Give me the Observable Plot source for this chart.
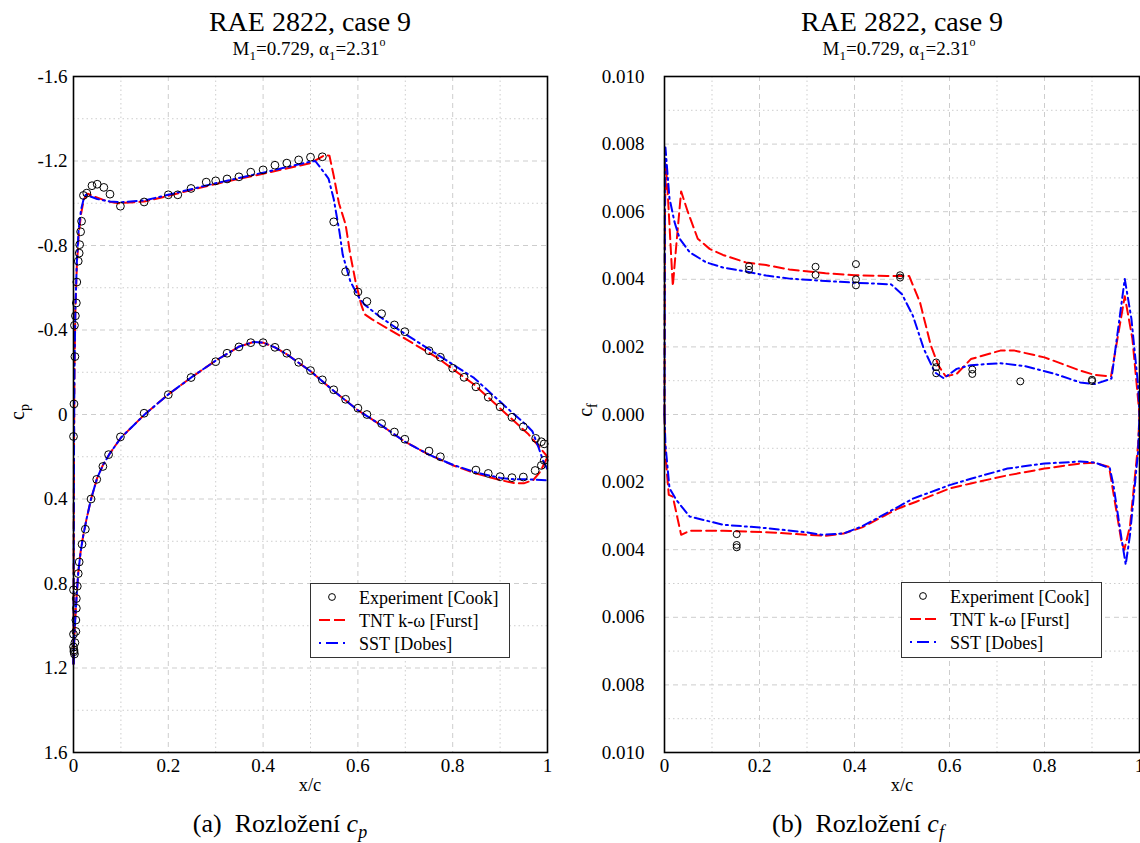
<!DOCTYPE html>
<html>
<head>
<meta charset="utf-8">
<script src="https://cdn.jsdelivr.net/npm/d3@7"></script>
<script src="https://cdn.jsdelivr.net/npm/@observablehq/plot@0.6"></script>
<style>
  html, body { margin: 0; padding: 0; background: #fff; }
  #root { position: relative; width: 1140px; height: 843px; overflow: hidden; font-family: "Liberation Serif", "DejaVu Serif", serif; color: #000; }
  .abs { position: absolute; white-space: nowrap; line-height: 1; }
  .cx { transform: translateX(-50%); }
  .title { font-size: 28px; }
  .subtitle { font-size: 19px; }
  .subtitle sub { font-size: 13px; vertical-align: -5px; line-height: 0; }
  .subtitle sup { font-size: 12px; vertical-align: 9px; line-height: 0; }
  .axlab { font-size: 18.5px; }
  .ylab { font-size: 20px; transform: translate(-50%, -50%) rotate(-90deg); }
  .ylab sub { font-size: 14px; vertical-align: -5px; line-height: 0; }
  .caption { font-size: 26px; }
  .caption sub { font-size: 18px; vertical-align: -6px; line-height: 0; }
  .legend { border: 1.5px solid #333; background: #fff; box-sizing: border-box; }
  .legend .row { position: absolute; left: 0; font-size: 18px; line-height: 1; }
  svg.plot { position: absolute; overflow: visible; }
  svg.plot text { font-family: "Liberation Serif", "DejaVu Serif", serif; }
</style>
</head>
<body>
<div id="root"></div>
<script>
// ---------- DATA ----------
const xTicks = [0, 0.2, 0.4, 0.6, 0.8, 1];
const xMajorGrid = [0.2, 0.4, 0.6, 0.8];
const xMinorGrid = [0.1, 0.3, 0.5, 0.7, 0.9];
const cpTicks = [-1.6, -1.2, -0.8, -0.4, 0, 0.4, 0.8, 1.2, 1.6];
const cpMinorGrid = [-1.4, -1.0, -0.6, -0.2, 0.2, 0.6, 1.0, 1.4];
const cfTicks = [-0.010, -0.008, -0.006, -0.004, -0.002, 0, 0.002, 0.004, 0.006, 0.008, 0.010];
const cfMinorGrid = [-0.009, -0.007, -0.005, -0.003, -0.001, 0.001, 0.003, 0.005, 0.007, 0.009];

// Experiment [Cook] cp, upper surface [x/c, cp]
const cpExpUpper = [
  [0.000, 0.104], [0.001, -0.05], [0.003, -0.274], [0.002, -0.422], [0.004, -0.467],
  [0.006, -0.528], [0.007, -0.627], [0.010, -0.726], [0.012, -0.764], [0.013, -0.804],
  [0.015, -0.865], [0.017, -0.915], [0.021, -1.037], [0.028, -1.048], [0.039, -1.083],
  [0.050, -1.09], [0.064, -1.075], [0.077, -1.043], [0.099, -0.986], [0.149, -1.006],
  [0.200, -1.04], [0.220, -1.04], [0.248, -1.07], [0.280, -1.10], [0.300, -1.106],
  [0.324, -1.115], [0.349, -1.125], [0.374, -1.147], [0.400, -1.158], [0.425, -1.18],
  [0.450, -1.19], [0.475, -1.205], [0.500, -1.218], [0.525, -1.22], [0.549, -0.912],
  [0.574, -0.676], [0.600, -0.58], [0.619, -0.535], [0.650, -0.477], [0.677, -0.424],
  [0.699, -0.392], [0.750, -0.302], [0.774, -0.271], [0.800, -0.219], [0.824, -0.176],
  [0.849, -0.131], [0.875, -0.082], [0.900, -0.036], [0.925, 0.013], [0.949, 0.058],
  [0.975, 0.113], [0.987, 0.129], [0.993, 0.139]
];
// Experiment [Cook] cp, lower surface
const cpExpLower = [
  [0.993, 0.217], [0.987, 0.241], [0.974, 0.265], [0.949, 0.296], [0.925, 0.299],
  [0.900, 0.294], [0.875, 0.279], [0.849, 0.263], [0.774, 0.20], [0.750, 0.173],
  [0.699, 0.117], [0.677, 0.083], [0.650, 0.043], [0.619, 0.0], [0.600, -0.03],
  [0.574, -0.072], [0.549, -0.117], [0.525, -0.164], [0.500, -0.208], [0.475, -0.247],
  [0.450, -0.29], [0.425, -0.318], [0.400, -0.34], [0.374, -0.34], [0.349, -0.32],
  [0.324, -0.29], [0.300, -0.25], [0.248, -0.175], [0.200, -0.094], [0.149, -0.006],
  [0.099, 0.106], [0.074, 0.19], [0.062, 0.246], [0.049, 0.307], [0.037, 0.40],
  [0.025, 0.543], [0.018, 0.614], [0.012, 0.698], [0.010, 0.753], [0.008, 0.813],
  [0.006, 0.871], [0.006, 0.917], [0.005, 0.973], [0.005, 1.027], [0.003, 1.08],
  [0.001, 1.123], [0.002, 1.134], [0.000, 0.83], [0.000, 1.04], [0.000, 1.10], [0.001, 1.115]
];
// TNT k-omega [Furst] cp
const cpTntUpper = [
  [0, 1.18], [0.0005, 0.6], [0.001, 0.2], [0.002, -0.2], [0.004, -0.5], [0.007, -0.7],
  [0.011, -0.85], [0.016, -0.95], [0.022, -1.02], [0.030, -1.045], [0.046, -1.03],
  [0.070, -1.01], [0.095, -1.0], [0.149, -1.008], [0.200, -1.035], [0.248, -1.063],
  [0.307, -1.095], [0.400, -1.14], [0.500, -1.19], [0.520, -1.215], [0.530, -1.228],
  [0.540, -1.225], [0.549, -1.13], [0.560, -1.0], [0.574, -0.9], [0.584, -0.756],
  [0.595, -0.63], [0.607, -0.52], [0.614, -0.475], [0.630, -0.45], [0.691, -0.37],
  [0.768, -0.268], [0.845, -0.142], [0.922, 0.016], [0.960, 0.094], [0.984, 0.157], [1.0, 0.2]
];
const cpTntLower = [
  [0, 1.18], [0.001, 1.1], [0.003, 1.0], [0.006, 0.88], [0.010, 0.75], [0.015, 0.65],
  [0.020, 0.58], [0.027, 0.5], [0.037, 0.4], [0.050, 0.3], [0.062, 0.24], [0.075, 0.19],
  [0.100, 0.11], [0.150, 0.0], [0.200, -0.095], [0.250, -0.178], [0.300, -0.255],
  [0.350, -0.322], [0.380, -0.343], [0.400, -0.34], [0.425, -0.318], [0.450, -0.285],
  [0.500, -0.205], [0.550, -0.11], [0.600, -0.02], [0.650, 0.052], [0.700, 0.13],
  [0.750, 0.19], [0.800, 0.24], [0.850, 0.28], [0.900, 0.31], [0.930, 0.325],
  [0.950, 0.326], [0.970, 0.31], [0.985, 0.27], [1.0, 0.2]
];
// SST [Dobes] cp
const cpSstUpper = [
  [0, 1.18], [0.0005, 0.6], [0.001, 0.2], [0.002, -0.2], [0.004, -0.5], [0.007, -0.72],
  [0.011, -0.88], [0.016, -0.97], [0.022, -1.025], [0.026, -1.04], [0.050, -1.02],
  [0.077, -1.008], [0.100, -1.005], [0.149, -1.013], [0.200, -1.04], [0.300, -1.095],
  [0.400, -1.145], [0.500, -1.197], [0.510, -1.2], [0.522, -1.165], [0.538, -1.117],
  [0.549, -1.02], [0.557, -0.917], [0.561, -0.866], [0.568, -0.756], [0.584, -0.63],
  [0.603, -0.551], [0.614, -0.52], [0.645, -0.465], [0.691, -0.394], [0.768, -0.283],
  [0.845, -0.173], [0.922, -0.016], [0.956, 0.051], [0.968, 0.079], [0.980, 0.149],
  [0.991, 0.22], [1.0, 0.26]
];
const cpSstLower = [
  [0, 1.18], [0.001, 1.1], [0.003, 1.0], [0.006, 0.88], [0.010, 0.75], [0.015, 0.65],
  [0.020, 0.58], [0.027, 0.5], [0.037, 0.4], [0.050, 0.3], [0.062, 0.24], [0.075, 0.19],
  [0.100, 0.11], [0.150, 0.0], [0.200, -0.095], [0.250, -0.178], [0.300, -0.255],
  [0.350, -0.322], [0.380, -0.343], [0.400, -0.34], [0.425, -0.318], [0.450, -0.285],
  [0.500, -0.205], [0.550, -0.11], [0.600, -0.02], [0.650, 0.052], [0.700, 0.13],
  [0.750, 0.19], [0.800, 0.238], [0.850, 0.275], [0.900, 0.30], [0.930, 0.307],
  [0.960, 0.307], [1.0, 0.312]
];

// Experiment [Cook] cf (lower surface plotted as negative values)
const cfExpUpper = [
  [0.178, 0.00439], [0.178, 0.00428], [0.318, 0.00437], [0.318, 0.00413],
  [0.403, 0.00445], [0.403, 0.00400], [0.403, 0.00382], [0.496, 0.00412], [0.496, 0.00405],
  [0.572, 0.00154], [0.572, 0.00140], [0.572, 0.00122], [0.648, 0.00133], [0.648, 0.00120],
  [0.749, 0.00098], [0.900, 0.00103], [0.900, 0.00099]
];
const cfExpLower = [[0.152, -0.00354], [0.152, -0.00386], [0.152, -0.00393]];
// TNT k-omega [Furst] cf
const cfTntUpper = [
  [0, 0], [0.001, 0.0060], [0.003, 0.0074], [0.007, 0.0065], [0.0175, 0.0038],
  [0.026, 0.0052], [0.035, 0.0066], [0.049, 0.0060], [0.070, 0.0052], [0.095, 0.0049],
  [0.123, 0.00472], [0.171, 0.0045], [0.214, 0.00442], [0.263, 0.00429], [0.339, 0.00418],
  [0.400, 0.00412], [0.469, 0.0041], [0.515, 0.0041], [0.538, 0.00331], [0.561, 0.00203],
  [0.577, 0.00144], [0.592, 0.00113], [0.615, 0.0012], [0.645, 0.00164], [0.707, 0.00189],
  [0.737, 0.00189], [0.800, 0.00169], [0.875, 0.0013], [0.906, 0.00117], [0.940, 0.00113],
  [0.969, 0.0035], [0.985, 0.00225], [0.997, 0.00045], [1, 0]
];
const cfTntLower = [
  [0, 0], [0.002, -0.0012], [0.009, -0.00238], [0.0175, -0.00243], [0.035, -0.00356],
  [0.053, -0.00344], [0.123, -0.00344], [0.224, -0.00349], [0.301, -0.00356],
  [0.339, -0.00359], [0.377, -0.00352], [0.416, -0.00334], [0.492, -0.00278],
  [0.530, -0.00258], [0.600, -0.00219], [0.645, -0.00204], [0.722, -0.0018],
  [0.800, -0.0016], [0.875, -0.00145], [0.906, -0.00143], [0.936, -0.00155],
  [0.962, -0.00376], [0.968, -0.004], [0.980, -0.0033], [0.997, -0.0009], [1, 0]
];
// SST [Dobes] cf
const cfSstUpper = [
  [0, 0], [0.001, 0.0079], [0.002, 0.0079], [0.007, 0.0070], [0.0105, 0.0064],
  [0.021, 0.0057], [0.032, 0.0052], [0.053, 0.0048], [0.088, 0.0045], [0.123, 0.00435],
  [0.172, 0.00423], [0.214, 0.00411], [0.263, 0.00402], [0.339, 0.00395], [0.400, 0.0039],
  [0.477, 0.00385], [0.500, 0.00356], [0.523, 0.00292], [0.546, 0.00194], [0.569, 0.00125],
  [0.588, 0.00107], [0.615, 0.00135], [0.645, 0.00146], [0.707, 0.00152], [0.760, 0.00143],
  [0.822, 0.0012], [0.875, 0.00095], [0.906, 0.0009], [0.941, 0.00106], [0.969, 0.00401],
  [0.983, 0.00283], [0.997, 0.00087], [1, 0]
];
const cfSstLower = [
  [0, 0], [0.002, -0.0009], [0.0105, -0.00218], [0.025, -0.00253], [0.053, -0.00302],
  [0.123, -0.00326], [0.214, -0.00336], [0.301, -0.00349], [0.331, -0.00356],
  [0.377, -0.00352], [0.416, -0.00331], [0.492, -0.00273], [0.523, -0.00249],
  [0.600, -0.00209], [0.645, -0.0019], [0.722, -0.0016], [0.800, -0.00145],
  [0.875, -0.00139], [0.906, -0.00142], [0.9375, -0.00159], [0.945, -0.00208],
  [0.962, -0.00366], [0.971, -0.00444], [0.980, -0.00356], [0.997, -0.0011], [1, 0]
];

const legendLabels = ["Experiment [Cook]", "TNT k-\u03C9 [Furst]", "SST [Dobes]"];

// ---------- STYLE ----------
const FONT = "'Liberation Serif', 'DejaVu Serif', serif";
const gridColor = "#cdcdcd";
const RED = "#ff0000", BLUE = "#0000ff";
const tntStyle = {stroke: RED, strokeWidth: 2, strokeDasharray: "10,5"};
const sstStyle = {stroke: BLUE, strokeWidth: 2, strokeDasharray: "9,4,2,4"};
const X = d => d[0], Y = d => d[1];

function panel(opts) {
  const {yDomain, yTicks, yMinor, yFormat, yPad, series, exp, r, width, height, margins} = opts;
  const marks = [
    Plot.ruleX(xMinorGrid, {stroke: gridColor, strokeDasharray: "1.5,3"}),
    Plot.ruleY(yMinor, {stroke: gridColor, strokeDasharray: "1.5,3"}),
    Plot.ruleX(xMajorGrid, {stroke: gridColor, strokeDasharray: "5,4"}),
    Plot.ruleY(yTicks.slice(1, -1), {stroke: gridColor, strokeDasharray: "5,4"}),
  ];
  for (const s of series) marks.push(Plot.line(s.data, {x: X, y: Y, ...s.style}));
  for (const e of exp) marks.push(Plot.dot(e, {x: X, y: Y, r, stroke: "black", strokeWidth: 1, fill: "none"}));
  marks.push(
    Plot.axisX({ticks: xTicks, tickSize: 0, tickPadding: 6, tickFormat: d => String(d), label: null, fontSize: 19, fontFamily: FONT}),
    Plot.axisY({ticks: yTicks, tickSize: 0, tickPadding: yPad, tickFormat: yFormat, label: null, fontSize: 19, fontFamily: FONT}),
    Plot.frame({stroke: "black", strokeWidth: 1.6})
  );
  const svg = Plot.plot({
    width, height, ...margins,
    x: {domain: [0, 1]},
    y: {domain: yDomain},
    style: {fontFamily: FONT, fontSize: "19px", background: "transparent", color: "black"},
    marks
  });
  svg.setAttribute("font-family", FONT);
  svg.querySelectorAll("text").forEach(t => t.setAttribute("font-family", FONT));
  svg.classList.add("plot");
  return svg;
}

const root = document.getElementById("root");
function addHTML(cls, html, x, y) {
  const d = document.createElement("div");
  d.className = "abs " + cls;
  d.style.left = x + "px";
  d.style.top = y + "px";
  d.innerHTML = html;
  root.appendChild(d);
  return d;
}

// Left panel (cp)
const left = panel({
  yDomain: [1.6, -1.6], yTicks: cpTicks, yMinor: cpMinorGrid,
  yFormat: d => String(Math.round(d * 10) / 10), yPad: 6,
  series: [
    {data: cpTntUpper, style: tntStyle}, {data: cpTntLower, style: tntStyle},
    {data: cpSstUpper, style: sstStyle}, {data: cpSstLower, style: sstStyle}
  ],
  exp: [cpExpUpper, cpExpLower], r: 3.9,
  width: 560, height: 740,
  margins: {marginLeft: 73, marginRight: 13, marginTop: 16, marginBottom: 48}
});
left.style.left = "0px"; left.style.top = "60px";
root.appendChild(left);

// Right panel (cf)
const right = panel({
  yDomain: [-0.010, 0.010], yTicks: cfTicks, yMinor: cfMinorGrid,
  yFormat: d => Math.abs(d).toFixed(3), yPad: 20,
  series: [
    {data: cfTntUpper, style: tntStyle}, {data: cfTntLower, style: tntStyle},
    {data: cfSstUpper, style: sstStyle}, {data: cfSstLower, style: sstStyle}
  ],
  exp: [cfExpUpper, cfExpLower], r: 3.5,
  width: 570, height: 740,
  margins: {marginLeft: 94, marginRight: 1, marginTop: 16, marginBottom: 48}
});
right.style.left = "570px"; right.style.top = "60px";
root.appendChild(right);

// Titles and labels (top = baseline - ~0.84 * font size)
const sub = "M<sub>1</sub>=0.729, \u03B1<sub>1</sub>=2.31<sup>o</sup>";
addHTML("title cx", "RAE 2822, case 9", 310, 8);
addHTML("subtitle cx", sub, 309, 39);
addHTML("title cx", "RAE 2822, case 9", 902, 8);
addHTML("subtitle cx", sub, 899, 39);
addHTML("ylab", "c<sub>p</sub>", 17, 412);
addHTML("ylab", "c<sub>f</sub>", 585, 410);
addHTML("axlab cx", "x/c", 310, 776);
addHTML("axlab cx", "x/c", 902, 776);
addHTML("caption cx", "(a)&nbsp;&nbsp;Rozložení <i>c<sub>p</sub></i>", 280, 811);
addHTML("caption cx", "(b)&nbsp;&nbsp;Rozložení <i>c<sub>f</sub></i>", 858, 811);

// Legends
function legend(x0, y0, w, h) {
  const box = document.createElement("div");
  box.className = "abs legend";
  Object.assign(box.style, {left: x0 + "px", top: y0 + "px", width: w + "px", height: h + "px"});
  const baselines = [20, 43, 66];
  const symbols = [
    `<circle cx="21" cy="10" r="3.4" fill="none" stroke="black" stroke-width="1"/>`,
    `<line x1="8" y1="10" x2="35" y2="10" stroke="${RED}" stroke-width="2" stroke-dasharray="11,4"/>`,
    `<line x1="8" y1="10" x2="35" y2="10" stroke="${BLUE}" stroke-width="2" stroke-dasharray="2,5,12,5"/>`
  ];
  legendLabels.forEach((lab, i) => {
    const row = document.createElement("div");
    row.className = "row";
    row.style.top = (baselines[i] - 15) + "px";
    row.style.width = w + "px";
    row.innerHTML = `<svg width="45" height="20" style="position:absolute;left:0;top:-2px">${symbols[i]}</svg><span style="position:absolute;left:48px;top:0">${lab}</span>`;
    box.appendChild(row);
  });
  root.appendChild(box);
}
legend(310, 583, 200, 75);
legend(901, 582, 201, 76);
</script>
</body>
</html>
